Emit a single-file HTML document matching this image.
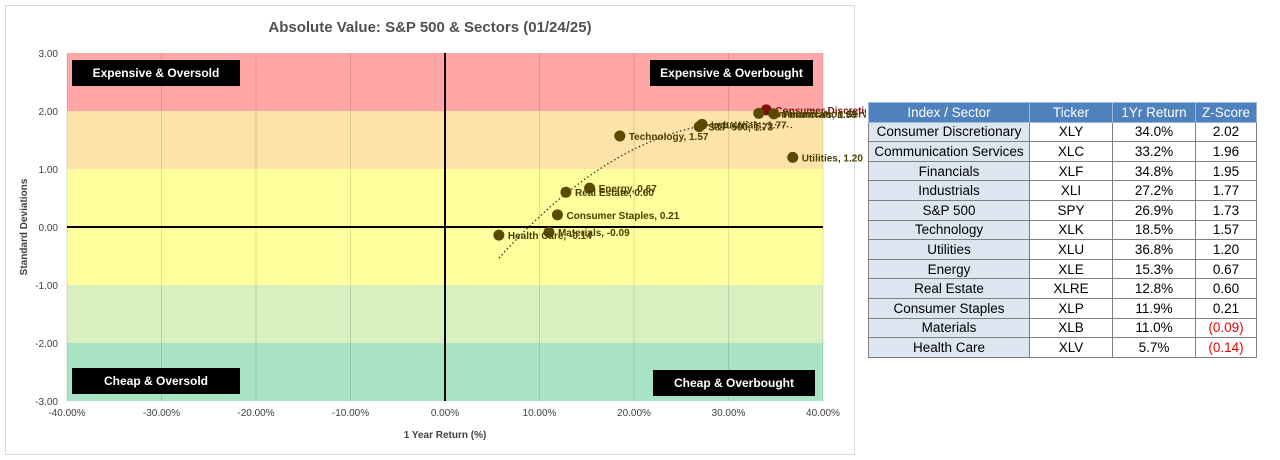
<!DOCTYPE html>
<html><head><meta charset="utf-8"><style>
body{margin:0;width:1280px;height:460px;background:#fff;font-family:"Liberation Sans",sans-serif;overflow:hidden;position:relative}
table{position:absolute;left:868px;top:102px;border-collapse:collapse;font-size:13.5px}
td,th{border:1px solid #7f7f7f;height:18.6px;padding:0;text-align:center;font-weight:normal}
th{background:#4f81bd;color:#fff;border-color:#9db8da}
td.n{background:#dce6f1}
td.r{color:#e00}
</style></head><body>
<svg id="chart" width="866" height="460" style="position:absolute;left:0;top:0" font-family="Liberation Sans, sans-serif"></svg>
<table>
<tr><th style="width:160px">Index / Sector</th><th style="width:82px">Ticker</th><th style="width:82px">1Yr Return</th><th style="width:60px">Z-Score</th></tr>
<tr><td class="n">Consumer Discretionary</td><td>XLY</td><td>34.0%</td><td>2.02</td></tr>
<tr><td class="n">Communication Services</td><td>XLC</td><td>33.2%</td><td>1.96</td></tr>
<tr><td class="n">Financials</td><td>XLF</td><td>34.8%</td><td>1.95</td></tr>
<tr><td class="n">Industrials</td><td>XLI</td><td>27.2%</td><td>1.77</td></tr>
<tr><td class="n">S&amp;P 500</td><td>SPY</td><td>26.9%</td><td>1.73</td></tr>
<tr><td class="n">Technology</td><td>XLK</td><td>18.5%</td><td>1.57</td></tr>
<tr><td class="n">Utilities</td><td>XLU</td><td>36.8%</td><td>1.20</td></tr>
<tr><td class="n">Energy</td><td>XLE</td><td>15.3%</td><td>0.67</td></tr>
<tr><td class="n">Real Estate</td><td>XLRE</td><td>12.8%</td><td>0.60</td></tr>
<tr><td class="n">Consumer Staples</td><td>XLP</td><td>11.9%</td><td>0.21</td></tr>
<tr><td class="n">Materials</td><td>XLB</td><td>11.0%</td><td class="r">(0.09)</td></tr>
<tr><td class="n">Health Care</td><td>XLV</td><td>5.7%</td><td class="r">(0.14)</td></tr>
</table>
<script>
const names=["Consumer Discretionary","Communication Services","Financials","Industrials","S&P 500","Technology","Utilities","Energy","Real Estate","Consumer Staples","Materials","Health Care"];
const returns=[34.0,33.2,34.8,27.2,26.9,18.5,36.8,15.3,12.8,11.9,11.0,5.7];
const zscores=[2.02,1.96,1.95,1.77,1.73,1.57,1.20,0.67,0.60,0.21,-0.09,-0.14];
const xTicks=[-40,-30,-20,-10,0,10,20,30,40];
const yTicks=[3,2,1,0,-1,-2,-3];
const bands=[[2,3,"#ffa7a7"],[1,2,"#fde3a7"],[-1,1,"#ffff9e"],[-2,-1,"#d8efc0"],[-3,-2,"#a8e4c4"]];
const svg=document.getElementById('chart');const NS="http://www.w3.org/2000/svg";
const X=v=>445+v*9.45, Y=v=>227-v*58;
function mk(t,a,txt){const e=document.createElementNS(NS,t);for(const k in a)e.setAttribute(k,a[k]);if(txt!=null)e.textContent=txt;svg.appendChild(e);return e;}
let e=mk('rect',{x:5.5,y:5.5,width:849,height:449,fill:'#fff',stroke:'#d9d9d9'});

e=mk('text',{x:430,y:32,'text-anchor':'middle','font-size':15,'font-weight':'bold',fill:'#505050'},'Absolute Value: S&P 500 & Sectors (01/24/25)');

bands.forEach(b=>{const r=mk('rect',{x:X(-40),y:Y(b[1]),width:X(40)-X(-40),height:Y(b[0])-Y(b[1]),fill:b[2]});
});
xTicks.forEach(t=>{const l=mk('line',{x1:X(t),x2:X(t),y1:Y(3),y2:Y(-3),stroke:'#000','stroke-opacity':0.12});

const tx=mk('text',{x:X(t),y:Y(-3)+15,'text-anchor':'middle','font-size':10,fill:'#404040'},t.toFixed(2)+'%');
});
yTicks.forEach(t=>{const tx=mk('text',{x:X(-40)-9,y:Y(t)+4,'text-anchor':'end','font-size':10,fill:'#404040'},t.toFixed(2));
});
e=mk('line',{x1:X(0),x2:X(0),y1:Y(3),y2:Y(-3),stroke:'#000','stroke-width':2});
e=mk('line',{x1:X(-40),x2:X(40),y1:Y(0),y2:Y(0),stroke:'#000','stroke-width':2});
e=mk('text',{x:445,y:438,'text-anchor':'middle','font-size':10,'font-weight':'bold',fill:'#404040'},'1 Year Return (%)');

e=mk('text',{x:0,y:0,'text-anchor':'middle','font-size':10,'font-weight':'bold',fill:'#404040',transform:'translate(27,227) rotate(-90)'},'Standard Deviations');

(function(){let n=returns.length,S=[0,0,0,0,0],T=[0,0,0];
for(let i=0;i<n;i++){let x=returns[i],y=zscores[i];for(let k=0;k<5;k++)S[k]+=Math.pow(x,k);for(let k=0;k<3;k++)T[k]+=y*Math.pow(x,k);}
const M=[[S[0],S[1],S[2],T[0]],[S[1],S[2],S[3],T[1]],[S[2],S[3],S[4],T[2]]];
for(let i=0;i<3;i++){for(let j=i+1;j<3;j++){const f=M[j][i]/M[i][i];for(let k=i;k<4;k++)M[j][k]-=f*M[i][k];}}
const c=[0,0,0];for(let i=2;i>=0;i--){let s=M[i][3];for(let k=i+1;k<3;k++)s-=M[i][k]*c[k];c[i]=s/M[i][i];}
const xmin=Math.min(...returns),xmax=Math.max(...returns);let d='';
for(let i=0;i<=60;i++){const x=xmin+(xmax-xmin)*i/60;const y=c[0]+c[1]*x+c[2]*x*x;d+=(i?'L':'M')+X(x).toFixed(1)+','+Y(y).toFixed(1);}
const p=mk('path',{d:d,fill:'none',stroke:'#333','stroke-width':1.3,'stroke-dasharray':'1.5,2.5'});
})();
returns.forEach((r,i)=>{const c=mk('circle',{cx:X(r),cy:Y(zscores[i]),r:5.5,fill:i==0?'#7a1010':'#5a4a00'});

const t=mk('text',{x:X(r)+9,y:Y(zscores[i])+4,'font-size':10,'font-weight':'bold',fill:i==0?'#7a1010':'#4a3e00'},names[i]+', '+zscores[i].toFixed(2));
});
[[72,60,168,"Expensive & Oversold"],[650,60,163,"Expensive & Overbought"],[72,368,168,"Cheap & Oversold"],[653,370,162,"Cheap & Overbought"]].forEach(q=>{
const r=mk('rect',{x:q[0],y:q[1],width:q[2],height:26,fill:'#000'});
const t=mk('text',{x:q[0]+q[2]/2,y:q[1]+17,'text-anchor':'middle','font-size':12,'font-weight':'bold',fill:'#fff'},q[3]);
});
</script>
</body></html>
